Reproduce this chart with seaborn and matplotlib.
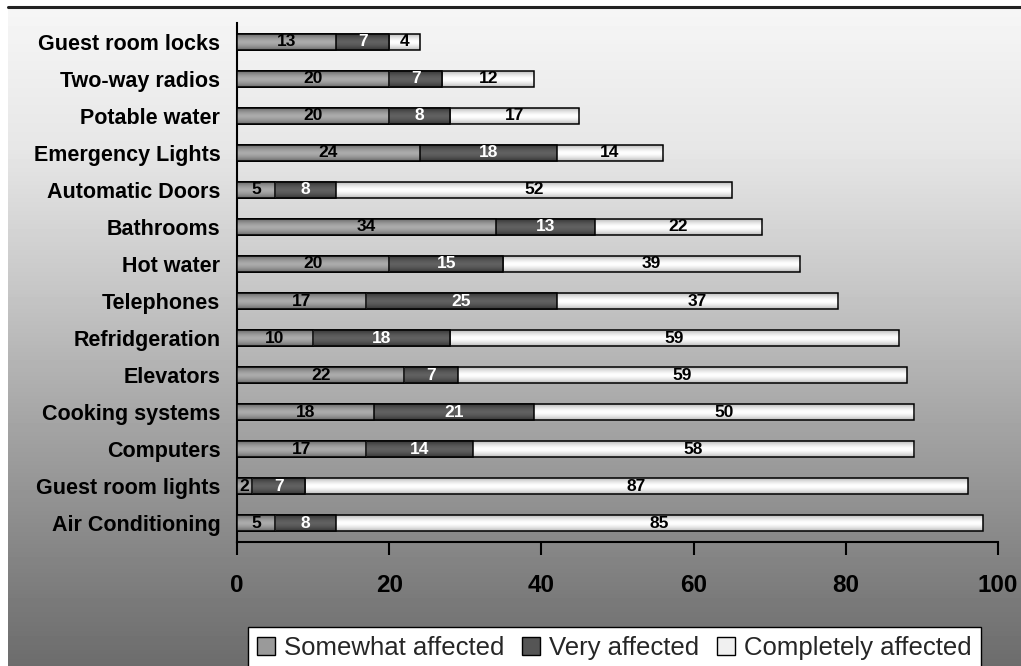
import numpy as np
import pandas as pd
import matplotlib
matplotlib.use("Agg")
import matplotlib.pyplot as plt
import seaborn as sns
from matplotlib.colors import LinearSegmentedColormap
from matplotlib.patches import Patch
from matplotlib.lines import Line2D

# ---- data -------------------------------------------------------------
categories = [
    "Guest room locks", "Two-way radios", "Potable water", "Emergency Lights",
    "Automatic Doors", "Bathrooms", "Hot water", "Telephones", "Refridgeration",
    "Elevators", "Cooking systems", "Computers", "Guest room lights",
    "Air Conditioning",
]
somewhat = [13, 20, 20, 24, 5, 34, 20, 17, 10, 22, 18, 17, 2, 5]
very = [7, 7, 8, 18, 8, 13, 15, 25, 18, 7, 21, 14, 7, 8]
completely = [4, 12, 17, 14, 52, 22, 39, 37, 59, 59, 50, 58, 87, 85]
series_names = ["Somewhat affected", "Very affected", "Completely affected"]
x_ticks = [0, 20, 40, 60, 80, 100]

df = pd.DataFrame({
    "category": categories,
    "somewhat": somewhat,
    "very": very,
    "completely": completely,
})
df["end_somewhat"] = df["somewhat"]
df["end_very"] = df["somewhat"] + df["very"]
df["end_all"] = df["end_very"] + df["completely"]

# ---- style ------------------------------------------------------------
sns.set_theme(style="white")
plt.rcParams["font.family"] = ["Liberation Sans", "DejaVu Sans"]

W, H = 1021, 666
fig = plt.figure(figsize=(W / 100, H / 100), dpi=100)
fig.patch.set_facecolor("white")

# vertical grey gradient behind the chart
bg = fig.add_axes([8 / W, 0, 1 - 8 / W, 1 - 8 / H], zorder=-10)
rows = np.arange(8, H)
stops_y = [8, 150, 290, 420, 600, 666]
stops_v = [246, 230, 198, 165, 122, 108]
shade = np.repeat(np.interp(rows, stops_y, stops_v)[:, None], 8, axis=1)
bg.imshow(shade, cmap="gray", vmin=0, vmax=255, aspect="auto",
          interpolation="nearest", extent=(0, 1, 0, 1))
bg.axis("off")
fig.add_artist(Line2D([8 / W, 1], [1 - 7 / H, 1 - 7 / H],
                      color="#222222", lw=2.2, transform=fig.transFigure))

ax = fig.add_axes([237 / W, 1 - 542 / H, (998 - 237) / W, (542 - 23) / H])
ax.patch.set_alpha(0)

# (column with bar end, edge shade, centre shade)
layers = [
    ("end_all", "#b9b9b9", "#ffffff"),
    ("end_very", "#363636", "#616161"),
    ("end_somewhat", "#6a6a6a", "#ababab"),
]

t = np.linspace(0, 1, 64)
profile = np.repeat((1 - np.abs(2 * t - 1) ** 1.6)[:, None], 4, axis=1)

for i, (col, edge_c, mid_c) in enumerate(layers):
    n0 = len(ax.patches)
    z = 3 + 2 * i
    sns.barplot(data=df, x=col, y="category", orient="h", color=mid_c,
                saturation=1, width=0.43, errorbar=None, edgecolor="black",
                linewidth=1.1, ax=ax, zorder=z)
    cmap = LinearSegmentedColormap.from_list(col, [edge_c, mid_c])
    for p in ax.patches[n0:]:
        x0, y0 = p.get_x(), p.get_y()
        x1, y1 = x0 + p.get_width(), y0 + p.get_height()
        im = ax.imshow(profile, cmap=cmap, vmin=0, vmax=1, aspect="auto",
                       interpolation="bilinear", extent=(x0, x1, y1, y0),
                       zorder=z - 0.5)
        im.set_clip_path(p)
        p.set_facecolor("none")
        p.set_zorder(z)

# segment value labels
starts = [np.zeros(len(categories)), df["end_somewhat"].values, df["end_very"].values]
for vals, start, tc in zip([somewhat, very, completely], starts,
                           ["black", "white", "black"]):
    for row, (v, s) in enumerate(zip(vals, start)):
        ax.text(s + v / 2, row, str(v), ha="center", va="center",
                fontsize=12.5, fontweight="bold", color=tc, zorder=20)

ax.set_xlim(0, 100)
ax.set_ylim(len(categories) - 0.5, -0.5)
ax.set_xticks(x_ticks)
ax.set_xticklabels([str(v) for v in x_ticks], fontsize=17.5, fontweight="bold")
ax.set_yticks(range(len(categories)))
ax.set_yticklabels(categories, fontsize=15.5, fontweight="bold")
ax.set_xlabel("")
ax.set_ylabel("")
for side in ["top", "right"]:
    ax.spines[side].set_visible(False)
for side in ["left", "bottom"]:
    ax.spines[side].set_color("black")
    ax.spines[side].set_linewidth(1.5)
ax.tick_params(axis="x", bottom=True, length=9, width=1.5, direction="out",
               pad=14, colors="black")
ax.tick_params(axis="y", left=False, length=0, pad=12, colors="black")

# legend along the bottom
handles = [Patch(facecolor=c, edgecolor="black", linewidth=1.0)
           for c in ["#9a9a9a", "#555555", "#f0f0f0"]]
leg = fig.legend(handles, series_names, loc="upper left",
                 bbox_to_anchor=(248 / W, 1 - 627 / H), ncol=3, frameon=True,
                 fancybox=False, edgecolor="black", facecolor="white",
                 framealpha=1, fontsize=18.5, handlelength=0.7,
                 handleheight=0.7, handletextpad=0.35, columnspacing=0.7,
                 borderpad=0.35, borderaxespad=0)
leg.get_frame().set_linewidth(1.0)

fig.savefig("out.png", dpi=100)
